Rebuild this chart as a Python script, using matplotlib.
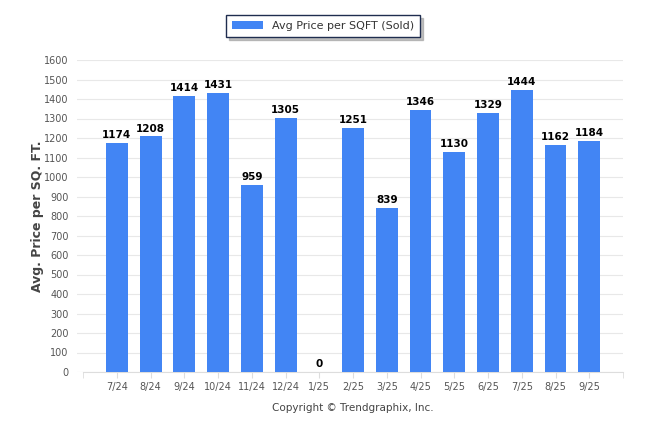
import matplotlib.pyplot as plt

months = ['7/24', '8/24', '9/24', '10/24', '11/24', '12/24', '1/25', '2/25',
          '3/25', '4/25', '5/25', '6/25', '7/25', '8/25', '9/25']
price = [1174, 1208, 1414, 1431, 959, 1305, 0, 1251,
         839, 1346, 1130, 1329, 1444, 1162, 1184]

fig = plt.figure(figsize=(6.46, 4.34), dpi=100)
ax = fig.add_axes([77/646, 62/434, 546/646, 312/434])

x = list(range(len(months)))
bars = ax.bar(x, price, width=0.65, color='#4285f4', zorder=3,
              label='Avg Price per SQFT (Sold)')
for xi, v in zip(x, price):
    ax.text(xi, v + 15, str(v), ha='center', va='bottom', fontsize=7.5,
            fontweight='bold', color='black')

ax.set_xlim(-1.18, 15)
ax.set_ylim(0, 1600)
ax.set_yticks(range(0, 1601, 100))
ax.set_xticks(x)
ax.set_xticklabels(months)
ax.tick_params(axis='y', length=0, labelsize=7, colors='#555555', pad=6)
ax.tick_params(axis='x', length=4, labelsize=7, colors='#555555', color='#dddddd')
ax.set_xticks([-1, 15], minor=True)
ax.tick_params(axis='x', which='minor', length=4, color='#dddddd')
ax.grid(axis='y', color='#e8e8e8', linewidth=0.8, zorder=0)
for s in ['top', 'right', 'left']:
    ax.spines[s].set_visible(False)
ax.spines['bottom'].set_color('#dddddd')
ax.spines['bottom'].set_bounds(-1, 15)

ax.set_ylabel('Avg. Price per SQ. FT.', fontsize=9, fontweight='bold',
              color='#444444', labelpad=0)

fig.text(353/646, 1 - 408/434, 'Copyright \u00a9 Trendgraphix, Inc.',
         ha='center', va='center', fontsize=7.5, color='#444444')

leg = fig.legend(handles=[bars], loc='center', bbox_to_anchor=(323/646, 1 - 26/434),
                 fontsize=8, frameon=True, fancybox=False,
                 shadow={'ox': 2, 'oy': -2, 'color': '#999999', 'alpha': 0.6},
                 edgecolor='#1f2d4f', handlelength=2.8, handleheight=0.8,
                 borderpad=0.55)
leg.get_frame().set_linewidth(1.0)
for t in leg.get_texts():
    t.set_color('#333333')

plt.savefig('out.png', dpi=100)
